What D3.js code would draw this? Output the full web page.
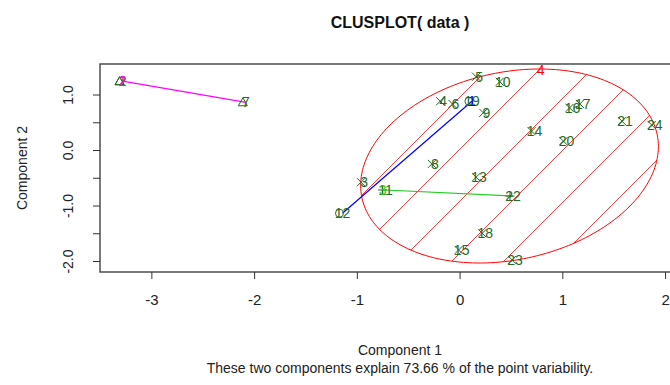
<!DOCTYPE html>
<html>
<head>
<meta charset="utf-8">
<script src="https://cdn.jsdelivr.net/npm/d3@7"></script>
<style>
  body { margin: 0; background: #fff; }
  svg { display: block; font-family: 'Liberation Sans', Arial, sans-serif; }
</style>
</head>
<body>
<script>
// point ids, principal component scores and cluster membership
var ids = [1, 2, 3, 4, 5, 6, 7, 8, 9, 10, 11, 12, 13, 14, 15, 16, 17, 18, 19, 20, 21, 22, 23, 24]
var comp1 = [-3.28, -3.28, -0.93, -0.16, 0.19, -0.04, -2.08, -0.24, 0.26, 0.42, -0.72, -1.14,
  0.19, 0.73, 0.02, 1.10, 1.20, 0.25, 0.12, 1.04, 1.61, 0.52, 0.54, 1.90]
var comp2 = [1.24, 1.24, -0.58, 0.88, 1.32, 0.83, 0.86, -0.25, 0.67, 1.23, -0.72, -1.14,
  -0.49, 0.34, -1.80, 0.76, 0.83, -1.50, 0.88, 0.16, 0.52, -0.83, -1.98, 0.45]
var cluster = [2, 2, 4, 4, 4, 4, 2, 4, 4, 4, 3, 1, 4, 4, 4, 4, 4, 4, 1, 4, 4, 3, 4, 4]

// clusters, their colours and where their number is written
var clusterIds = [1, 2, 3, 4]
var clusterColors = ['#0000ff', '#ff00ff', '#22cc22', '#ff0000']
var clusterLabelX = [0.12, -3.28, -0.75, 0.79]
var clusterLabelY = [0.88, 1.24, -0.72, 1.44]

// shaded ellipse of cluster 4 (centre + cholesky factor of its shape)
var ellipseCenter = [0.486, -0.288]
var ellipseShape = [1.449, 0.352, 1.712]

var xTicks = [-3, -2, -1, 0, 1, 2]
var yTicks = [-2, -1.5, -1, -0.5, 0, 0.5, 1]
var yTickLabels = ['-2.0', '', '-1.0', '', '0.0', '', '1.0']

var W = 670
var H = 385
var box = { left: 100, top: 64, right: 700, bottom: 272 }

var x = d3.scaleLinear().domain([-3.5, 2.34]).range([box.left, box.right])
var y = d3.scaleLinear().domain([-2.198, 1.55]).range([box.bottom, box.top])

var svg = d3.select('body').append('svg')
  .attr('width', W)
  .attr('height', H)

// ellipse outline in pixels
var ellipsePts = d3.range(0, 201).map(function (i) {
  var t = i / 200 * 2 * Math.PI
  return [x(ellipseCenter[0] + ellipseShape[0] * Math.cos(t)),
    y(ellipseCenter[1] + ellipseShape[1] * Math.cos(t) + ellipseShape[2] * Math.sin(t))]
})
var ellipsePath = d3.line()(ellipsePts) + 'Z'

// hatching at 45 degrees: cut each line x + y = c with the ellipse
function cutLine (c) {
  var hits = []
  for (var i = 0; i < ellipsePts.length - 1; i++) {
    var a = ellipsePts[i]
    var b = ellipsePts[i + 1]
    var fa = a[0] + a[1] - c
    var fb = b[0] + b[1] - c
    if ((fa <= 0 && fb > 0) || (fa > 0 && fb <= 0)) {
      var t = fa / (fa - fb)
      hits.push([a[0] + t * (b[0] - a[0]), a[1] + t * (b[1] - a[1])])
    }
  }
  return hits.length >= 2 ? 'M' + hits[0].join(',') + 'L' + hits[1].join(',') : ''
}
var step = 52
var hatchD = ''
for (var c = 609 - step * 5; c <= 609 + step * 6; c += step) hatchD += cutLine(c)

svg.append('path')
  .attr('d', hatchD)
  .style('fill', 'none')
  .style('stroke', '#f03c3c')
  .style('stroke-width', 1)

svg.append('path')
  .attr('d', ellipsePath)
  .style('fill', 'none')
  .style('stroke', '#ff0000')
  .style('stroke-width', 1)

// two/three point clusters are drawn as segments
clusterIds.forEach(function (k, ci) {
  if (k === 4) return
  var members = ids.map(function (d, i) { return i }).filter(function (i) { return cluster[i] === k })
  var lo = d3.least(members, function (i) { return comp1[i] })
  var hi = d3.greatest(members, function (i) { return comp1[i] })
  svg.append('line')
    .attr('x1', x(comp1[lo])).attr('y1', y(comp2[lo]))
    .attr('x2', x(comp1[hi])).attr('y2', y(comp2[hi]))
    .style('stroke', clusterColors[ci])
    .style('stroke-width', 1.2)
})

// point symbols (pch = cluster number)
var green = '#1f6b1f'
ids.forEach(function (id, i) {
  var px = x(comp1[i]) - 3
  var py = y(comp2[i])
  var g = svg.append('g').attr('transform', 'translate(' + px + ',' + py + ')')
    .style('stroke', green).style('fill', 'none').style('stroke-width', 1)
  var k = cluster[i]
  if (k === 1) {
    g.append('circle').attr('r', 4)
  } else if (k === 2) {
    g.append('path').attr('d', 'M-4.5,3.5L4.5,3.5L0,-4.5Z')
  } else if (k === 3) {
    g.append('path').attr('d', 'M-4.5,0L4.5,0M0,-4.5L0,4.5')
  } else {
    g.append('path').attr('d', 'M-4,-4L4,4M-4,4L4,-4')
  }
})

// point labels
svg.selectAll('text.lab')
  .data(ids)
  .enter().append('text')
  .attr('class', 'lab')
  .attr('x', function (d, i) { return x(comp1[i]) })
  .attr('y', function (d, i) { return y(comp2[i]) })
  .attr('dy', '0.36em')
  .attr('text-anchor', 'middle')
  .attr('font-size', 14)
  .attr('fill', green)
  .text(function (d) { return d })

// cluster labels
svg.selectAll('text.clab')
  .data(clusterIds)
  .enter().append('text')
  .attr('class', 'clab')
  .attr('x', function (d, i) { return x(clusterLabelX[i]) })
  .attr('y', function (d, i) { return y(clusterLabelY[i]) })
  .attr('dy', '0.36em')
  .attr('text-anchor', 'middle')
  .attr('font-size', 14)
  .attr('fill', function (d, i) { return clusterColors[i] })
  .text(function (d) { return d })

// frame
svg.append('rect')
  .attr('x', box.left).attr('y', box.top)
  .attr('width', box.right - box.left).attr('height', box.bottom - box.top)
  .style('fill', 'none').style('stroke', '#333').style('stroke-width', 1.3)

// x axis
var xa = svg.append('g').attr('transform', 'translate(0,' + box.bottom + ')')
  .call(d3.axisBottom(x).tickValues(xTicks).tickSize(7).tickPadding(15)
    .tickFormat(function (d) { return String(d) }))
xa.select('.domain').remove()
xa.selectAll('line').style('stroke', '#333')
xa.selectAll('text').attr('font-size', 15).attr('fill', '#222')
  .attr('font-family', "'Liberation Sans', Arial, sans-serif")

// y axis
var ya = svg.append('g').attr('transform', 'translate(' + box.left + ',0)')
  .call(d3.axisLeft(y).tickValues(yTicks).tickSize(7).tickPadding(0)
    .tickFormat(function (d, i) { return yTickLabels[i] }))
ya.select('.domain').remove()
ya.selectAll('line').style('stroke', '#333')
ya.selectAll('text')
  .attr('font-size', 14).attr('fill', '#222')
  .attr('font-family', "'Liberation Sans', Arial, sans-serif")
  .attr('text-anchor', 'middle')
  .attr('x', null).attr('dy', null)
  .attr('transform', 'translate(-32,0) rotate(-90)')
  .attr('y', 5)

// titles
var mid = (box.left + box.right) / 2
svg.append('text')
  .attr('x', mid).attr('y', 28)
  .attr('text-anchor', 'middle')
  .attr('font-size', 16).attr('font-weight', 'bold').attr('fill', '#111')
  .text('CLUSPLOT( data )')

svg.append('text')
  .attr('x', mid).attr('y', 355)
  .attr('text-anchor', 'middle')
  .attr('font-size', 14).attr('fill', '#222')
  .text('Component 1')

svg.append('text')
  .attr('x', mid).attr('y', 373)
  .attr('text-anchor', 'middle')
  .attr('font-size', 14).attr('fill', '#222')
  .text('These two components explain 73.66 % of the point variability.')

svg.append('text')
  .attr('transform', 'translate(27,' + ((box.top + box.bottom) / 2) + ') rotate(-90)')
  .attr('text-anchor', 'middle')
  .attr('font-size', 14).attr('fill', '#222')
  .text('Component 2')
</script>
</body>
</html>
